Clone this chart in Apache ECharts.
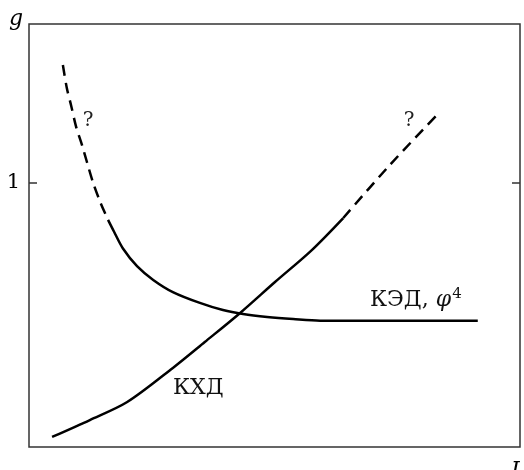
<!DOCTYPE html>
<html>
<head>
<meta charset="utf-8">
<script src="https://cdn.jsdelivr.net/npm/echarts@6/dist/echarts.min.js"></script>
<style>
  html, body { margin: 0; padding: 0; background: #fff; }
  #chart { width: 524px; height: 470px; }
</style>
</head>
<body>
<div id="chart"></div>
<script>
// curve points [L, g]
const qedDashed = [[0.69, 1.445], [0.77, 1.358], [0.86, 1.290], [0.96, 1.211], [1.08, 1.142], [1.18, 1.078], [1.30, 1.003], [1.45, 0.927], [1.61, 0.859]]
const qedSolid = [[1.61, 0.859], [1.73, 0.815], [1.91, 0.752], [2.20, 0.684], [2.53, 0.632], [2.93, 0.586], [3.48, 0.545], [3.95, 0.518], [4.36, 0.503], [4.85, 0.492], [5.38, 0.484], [5.93, 0.478], [7.15, 0.478], [9.14, 0.478]]
const qcdSolid = [[0.47, 0.038], [1.24, 0.102], [2.00, 0.170], [2.93, 0.299], [3.58, 0.397], [4.30, 0.507], [5.01, 0.624], [5.76, 0.745], [6.40, 0.866]]
const qcdDashed = [[6.40, 0.866], [7.35, 1.067], [8.35, 1.264]]
const yTicks = [1]

const serif = '"DejaVu Serif", "Liberation Serif", serif'
const curve = (data, dashed) => ({
    type: 'line',
    data: data,
    smooth: 0.3,
    showSymbol: false,
    silent: true,
    lineStyle: { color: '#000', width: 2.5, type: dashed ? [11, 7] : 'solid' }
})

let chart = echarts.init(document.getElementById('chart'))
chart.setOption({
    animation: false,
    grid: { left: 29, top: 24, right: 4, bottom: 23, outerBoundsMode: 'none', show: true, borderColor: '#333', borderWidth: 1.5 },
    xAxis: {
        type: 'value', min: 0, max: 10,
        name: 'L', nameLocation: 'end', nameGap: -9,
        nameTextStyle: { fontFamily: serif, fontStyle: 'italic', fontSize: 22, color: '#000', verticalAlign: 'top', padding: [13, 0, 0, 0] },
        axisLine: { show: false }, axisTick: { show: false }, axisLabel: { show: false }, splitLine: { show: false }
    },
    yAxis: [
        {
            type: 'value', min: 0, max: 1.6,
            name: 'g', nameLocation: 'end', nameGap: 5,
            nameTextStyle: { fontFamily: serif, fontStyle: 'italic', fontSize: 22, color: '#000', align: 'right', verticalAlign: 'middle', padding: [0, 6, 0, 0] },
            axisLine: { show: false },
            axisTick: { inside: true, length: 8, customValues: yTicks, lineStyle: { color: '#333', width: 1.5 } },
            axisLabel: { customValues: yTicks, margin: 9, fontFamily: serif, fontSize: 21, color: '#000' },
            splitLine: { show: false }
        },
        {
            type: 'value', min: 0, max: 1.6, position: 'right',
            axisLine: { show: false },
            axisTick: { inside: true, length: 8, customValues: yTicks, lineStyle: { color: '#333', width: 1.5 } },
            axisLabel: { show: false },
            splitLine: { show: false }
        }
    ],
    series: [
        curve(qedDashed, true),
        curve(qedSolid, false),
        curve(qcdSolid, false),
        curve(qcdDashed, true)
    ],
    graphic: [
        { type: 'text', style: { text: '?', x: 88, y: 121, align: 'center', verticalAlign: 'middle', font: '20px ' + serif, fill: '#222' } },
        { type: 'text', style: { text: '?', x: 409, y: 121, align: 'center', verticalAlign: 'middle', font: '20px ' + serif, fill: '#222' } },
        { type: 'text', style: { text: 'КХД', x: 173, y: 388, align: 'left', verticalAlign: 'middle', font: '22px ' + serif, fill: '#111' } },
        {
            type: 'text',
            style: {
                text: 'КЭД, {p|φ}{s|4}', x: 370, y: 300, align: 'left', verticalAlign: 'middle',
                font: '22px ' + serif, fill: '#111',
                rich: {
                    p: { fontFamily: serif, fontStyle: 'italic', fontSize: 22, fill: '#111' },
                    s: { fontFamily: serif, fontSize: 15, fill: '#111', verticalAlign: 'top', padding: [0, 0, 12, 1] }
                }
            }
        }
    ]
})
</script>
</body>
</html>
